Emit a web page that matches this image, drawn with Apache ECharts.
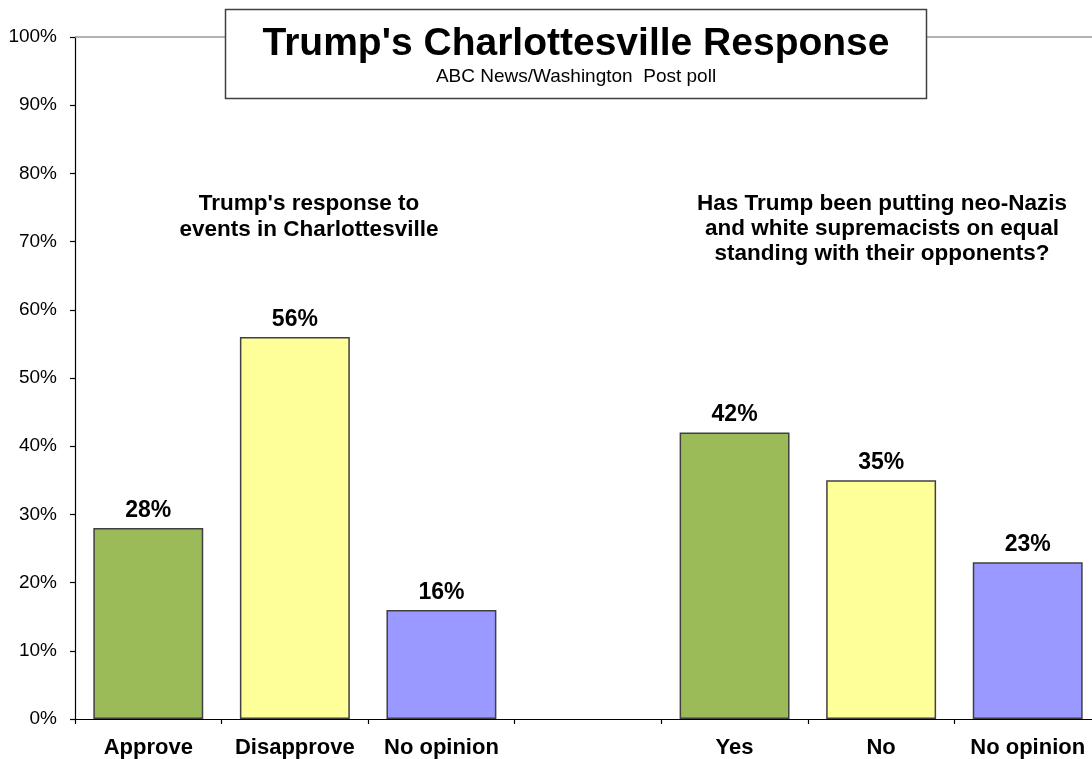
<!DOCTYPE html>
<html>
<head>
<meta charset="utf-8">
<script src="https://cdn.jsdelivr.net/npm/echarts@6/dist/echarts.min.js"></script>
<style>html,body{margin:0;padding:0;background:#fff;overflow:hidden;}#c{width:1101px;height:759px;}</style>
</head>
<body>
<div id="c"></div>
<script>
const categories = ['Approve', 'Disapprove', 'No opinion', '', 'Yes', 'No', 'No opinion'];
const values = [28, 56, 16, null, 42, 35, 23];
const barColors = ['#9BBB59', '#FFFF99', '#9999FF', '#ffffff', '#9BBB59', '#FFFF99', '#9999FF'];
const yTicks = [0, 10, 20, 30, 40, 50, 60, 70, 80, 90, 100];
const titleText = "Trump's Charlottesville Response";
const subtitleText = 'ABC News/Washington  Post poll';
const noteLeft = "Trump's response to\nevents in Charlottesville";
const noteRight = 'Has Trump been putting neo-Nazis\nand white supremacists on equal\nstanding with their opponents?';

const FONT = '"Liberation Sans", Arial, sans-serif';
const chart = echarts.init(document.getElementById('c'), null, {renderer: 'canvas'});
chart.setOption({
  animation: false,
  backgroundColor: '#fff',
  grid: {left: 75, top: 37, right: 0, bottom: 39, containLabel: false},
  xAxis: {
    type: 'category',
    data: categories,
    axisLine: {lineStyle: {color: '#000', width: 1.2}},
    axisTick: {show: true, length: 5, lineStyle: {color: '#000', width: 1.2}},
    axisLabel: {color: '#000', fontSize: 22, fontWeight: 'bold', fontFamily: FONT, margin: 18, interval: 0}
  },
  yAxis: {
    type: 'value',
    min: yTicks[0],
    max: yTicks[yTicks.length - 1],
    interval: 10,
    axisLine: {show: true, lineStyle: {color: '#000', width: 1.2}},
    axisTick: {show: true, length: 5, lineStyle: {color: '#000', width: 1.2}},
    splitLine: {show: false},
    axisLabel: {color: '#000', fontSize: 19, fontFamily: FONT, margin: 18, formatter: v => v + '%'}
  },
  series: [{
    type: 'bar',
    barCategoryGap: '25%',
    data: values.map((v, i) => ({value: v, itemStyle: {color: barColors[i]}})),
    itemStyle: {borderColor: '#404040', borderWidth: 1.5},
    label: {show: true, position: 'top', distance: 6, color: '#000', fontSize: 23, fontWeight: 'bold', fontFamily: FONT,
      formatter: p => (p.value == null ? '' : p.value + '%')},
    markLine: {
      silent: true, symbol: 'none',
      label: {show: false},
      lineStyle: {color: '#999', type: 'solid', width: 1.5},
      data: [{yAxis: 100}]
    }
  }],
  graphic: [
    {type: 'rect', z: 10, shape: {x: 225.5, y: 9.5, width: 701, height: 89},
      style: {fill: '#fff', stroke: '#404040', lineWidth: 1.5}},
    {type: 'text', z: 11, x: 576, y: 44,
      style: {text: titleText, fill: '#000', font: 'bold 39px ' + FONT, align: 'center', verticalAlign: 'middle'}},
    {type: 'text', z: 11, x: 576, y: 77,
      style: {text: subtitleText, fill: '#000', font: '19px ' + FONT, align: 'center', verticalAlign: 'middle'}},
    {type: 'text', z: 11, x: 309, y: 217,
      style: {text: noteLeft, fill: '#000', font: 'bold 22.5px ' + FONT, align: 'center', verticalAlign: 'middle', lineHeight: 26}},
    {type: 'text', z: 11, x: 882, y: 229,
      style: {text: noteRight, fill: '#000', font: 'bold 22.5px ' + FONT, align: 'center', verticalAlign: 'middle', lineHeight: 25}}
  ]
});
</script>
</body>
</html>
